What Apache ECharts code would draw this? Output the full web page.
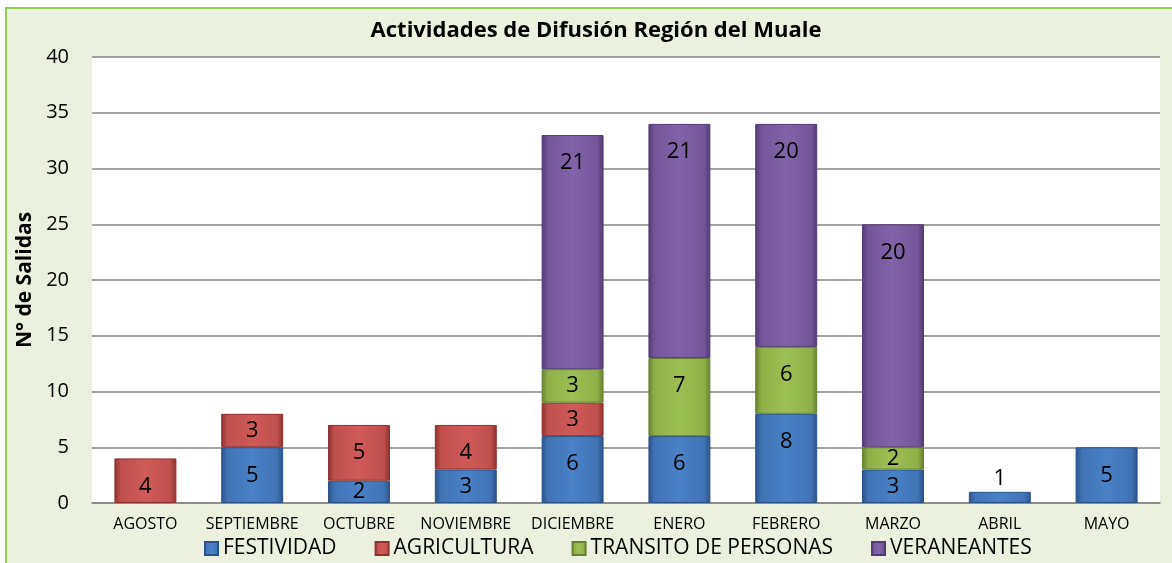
<!DOCTYPE html>
<html><head><meta charset="utf-8">
<script src="https://cdn.jsdelivr.net/npm/echarts@6/dist/echarts.min.js"></script>
<style>
html,body{margin:0;padding:0;background:#fff;}
#frame{position:absolute;left:5px;top:7px;width:1180px;height:570px;background:#ebf1de;border:2px solid #92d050;box-sizing:border-box;}
#c{position:absolute;left:0;top:0;width:1172px;height:563px;}
</style></head>
<body>
<div id="frame"></div>
<div id="c"></div>
<script>
const categories = ['AGOSTO','SEPTIEMBRE','OCTUBRE','NOVIEMBRE','DICIEMBRE','ENERO','FEBRERO','MARZO','ABRIL','MAYO'];
const festividad = [null,5,2,3,6,6,8,3,1,5];
const agricultura = [4,3,5,4,3,null,null,null,null,null];
const transito = [null,null,null,null,3,7,6,2,null,null];
const veraneantes = [null,null,null,null,21,21,20,20,null,null];
const seriesNames = ['FESTIVIDAD','AGRICULTURA','TRANSITO DE PERSONAS','VERANEANTES'];
const yTicks = {min:0,max:40,interval:5};

const FONT = 'Open Sans';
function grad(light, base, dark){
  return new echarts.graphic.LinearGradient(0,0,1,0,[
    {offset:0,color:dark},{offset:0.1,color:base},{offset:0.5,color:light},{offset:0.9,color:base},{offset:1,color:dark}
  ]);
}
const colors = [
  {base:'#3f73b4', light:'#4a82c6', dark:'#2a5288'},
  {base:'#c0504d', light:'#d05a56', dark:'#8f302e'},
  {base:'#8fb048', light:'#9cbf55', dark:'#667f30'},
  {base:'#73559a', light:'#8063a8', dark:'#533a75'}
];
function labelFor(v){
  if (v == null) return {};
  if (v <= 1) return {position:'top', distance:2};
  if (v >= 4) return {position:'insideTop', distance:17};
  return {position:'inside'};
}
function mk(name, data, i){
  const c = colors[i];
  return {
    name, type:'bar', stack:'s', barWidth:'58%',
    data: data.map(v => v == null ? null : {value:v, label:labelFor(v)}),
    itemStyle:{color:grad(c.light,c.base,c.dark), borderColor:c.dark, borderWidth:1},
    label:{show:true, position:'inside', color:'#000', fontFamily:FONT, fontSize:22,
      formatter:p=> (p.value==null?'':p.value)}
  };
}
const chart = echarts.init(document.getElementById('c'));
chart.setOption({
  animation:false,
  backgroundColor:'transparent',
  color:colors.map(c=>c.base),
  title:{text:'Actividades de Difusión Región del Muale', left:591, textAlign:'center', top:15,
    textStyle:{fontFamily:FONT, fontWeight:'bold', fontSize:22, color:'#000'}},
  legend:{top:533, left:199, icon:'rect', itemWidth:13, itemHeight:13, itemGap:38,
    textStyle:{fontFamily:FONT, fontSize:21, color:'#000'}, data:seriesNames},
  grid:{left:92, right:12, top:57, bottom:60, show:true, backgroundColor:'#fff', borderWidth:0},
  xAxis:{type:'category', data:categories,
    axisLine:{lineStyle:{color:'#868686', width:1.5}}, axisTick:{show:false},
    axisLabel:{fontFamily:FONT, fontSize:16, color:'#000', margin:13, interval:0}},
  yAxis:{type:'value', min:yTicks.min, max:yTicks.max, interval:yTicks.interval,
    name:'N° de Salidas', nameLocation:'middle', nameGap:50, nameRotate:90,
    nameTextStyle:{fontFamily:FONT, fontWeight:'bold', fontSize:21, color:'#000'},
    axisLabel:{fontFamily:FONT, fontSize:20, color:'#000', margin:23},
    splitLine:{lineStyle:{color:'#868686', width:1.5}},
    axisLine:{show:false}, axisTick:{show:false}},
  series:[mk(seriesNames[0],festividad,0), mk(seriesNames[1],agricultura,1), mk(seriesNames[2],transito,2), mk(seriesNames[3],veraneantes,3)]
});
</script>
</body></html>
